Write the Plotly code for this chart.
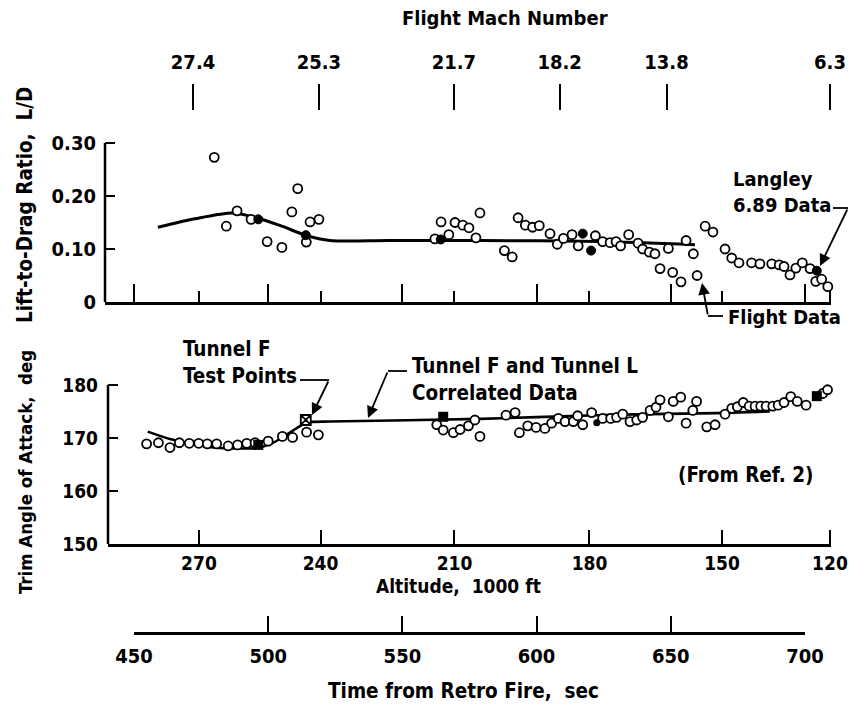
import plotly.graph_objects as go

W, H = 850, 711
FONT = "DejaVu Sans Condensed, DejaVu Sans, sans-serif"

# ---- Lift-to-drag ratio (flight data) vs time from retro fire, s ----
ld_open_time = [474.3, 479.9, 484.4, 488.4, 493.6, 499.6, 505.1, 508.8, 511.0, 514.2,
                515.6, 518.9, 562.1, 564.4, 567.3, 569.6, 572.5, 574.8, 577.4, 578.9,
                588.0, 590.9, 593.1, 595.8, 598.5, 601.0, 605.0, 607.7, 610.0, 613.2,
                615.5, 621.9, 624.6, 627.4, 629.6, 631.3, 634.3, 637.8, 639.5, 642.0,
                644.1, 646.0, 649.1, 650.7, 653.8, 655.7, 658.4, 659.8, 662.8, 665.7,
                670.2, 672.7, 675.4, 680.1, 683.2, 687.6, 690.4, 692.2, 694.4, 696.6,
                699.0, 701.9, 704.0, 706.2, 708.5]
ld_open_value = [0.346, 0.273, 0.143, 0.172, 0.156, 0.114, 0.103, 0.170, 0.214, 0.113,
                 0.151, 0.156, 0.119, 0.151, 0.127, 0.150, 0.145, 0.140, 0.121, 0.168,
                 0.097, 0.085, 0.159, 0.145, 0.141, 0.144, 0.129, 0.109, 0.120, 0.127,
                 0.106, 0.125, 0.114, 0.112, 0.114, 0.106, 0.127, 0.111, 0.100, 0.094,
                 0.091, 0.063, 0.101, 0.056, 0.038, 0.116, 0.091, 0.050, 0.143, 0.132,
                 0.100, 0.083, 0.074, 0.074, 0.072, 0.072, 0.070, 0.067, 0.051, 0.064,
                 0.074, 0.063, 0.039, 0.043, 0.029]
ld_solid_time = [496.3, 514.0, 564.3, 617.2, 620.3, 704.4]
ld_solid_value = [0.156, 0.126, 0.118, 0.129, 0.097, 0.059]
ld_fair_time = [458.9, 472.7, 486.9, 496.2, 505.1, 514.0, 523.0, 545.0, 578.9, 623.6, 659.0]
ld_fair_value = [0.141, 0.157, 0.168, 0.158, 0.143, 0.126, 0.116, 0.116, 0.116, 0.114, 0.108]

# ---- Trim angle of attack, deg ----
trim_open_time = [454.7, 459.1, 463.4, 466.9, 470.6, 474.1, 477.3, 480.8, 485.1, 488.6,
                  492.0, 495.1, 500.0, 505.3, 509.1, 514.3, 518.7, 562.8, 565.2, 569.0,
                  571.5, 574.6, 577.0, 578.9, 588.6, 592.0, 593.6, 596.7, 599.8, 603.1,
                  605.6, 608.1, 610.6, 613.7, 615.3, 617.2, 620.5, 624.6, 627.6, 629.8,
                  632.1, 634.8, 637.3, 639.5, 642.3, 644.5, 646.0, 649.1, 650.9, 653.7,
                  655.7, 658.2, 659.6, 663.4, 666.5, 670.2, 672.7, 674.8, 677.0, 679.2,
                  681.4, 683.5, 685.5, 688.0, 690.0, 692.2, 694.7, 697.1, 700.4, 706.6,
                  708.4]
trim_open_value = [168.9, 169.1, 168.2, 169.1, 169.0, 169.0, 168.9, 168.9, 168.5, 168.7,
                   169.0, 169.1, 169.4, 170.3, 170.1, 171.1, 170.6, 172.5, 171.5, 171.0,
                   171.6, 172.3, 173.4, 170.3, 174.3, 174.8, 171.0, 172.3, 172.0, 171.8,
                   172.8, 173.7, 173.1, 173.1, 174.2, 172.5, 174.8, 173.7, 173.7, 173.9,
                   174.5, 173.1, 173.4, 173.9, 175.2, 175.8, 177.2, 174.0, 176.9, 177.7,
                   172.8, 175.2, 176.9, 172.1, 172.5, 174.5, 175.6, 175.9, 176.7, 176.0,
                   176.0, 176.0, 176.0, 176.0, 176.2, 176.7, 177.8, 176.9, 176.2, 178.4,
                   179.1]
trim_solid_time = [622.4]
trim_solid_value = [172.9]
tunnel_f_time = [496.3, 565.2, 704.4]
tunnel_f_value = [168.7, 174.0, 177.9]
tunnel_f_open_time = [514.0]
tunnel_f_open_value = [173.4]
trim_fair_time = [455.1, 463.4, 474.6, 482.0, 495.7, 500.5, 505.0, 509.5, 514.3, 523.0,
                  578.9, 622.4, 642.3, 667.1, 686.9]
trim_fair_value = [171.2, 169.8, 168.6, 168.1, 168.1, 168.8, 170.0, 171.5, 172.9, 173.1,
                   173.6, 174.3, 174.5, 174.7, 175.0]

# ---- Axis scales ----
time_ticks = [450, 500, 550, 600, 650, 700]
altitude_tick_time = [474.2, 519.5, 569.4, 619.7, 669.1, 709.3]
altitude_labels = ["270", "240", "210", "180", "150", "120"]
mach_tick_time = [472.0, 518.9, 569.2, 608.6, 648.4, 709.3]
mach_labels = ["27.4", "25.3", "21.7", "18.2", "13.8", "6.3"]
ld_ticks = [0, 0.1, 0.2, 0.3]
ld_tick_labels = ["0", "0.10", "0.20", "0.30"]
trim_ticks = [150, 160, 170, 180]


def px(x):
    return x / W


def py(y):
    return 1 - y / H


# time scale: 450 s at x=134 px, 700 s at x=805 px
SEC_PX = (805 - 134) / 250.0


def t_at(xpix):
    return 450 + (xpix - 134) / SEC_PX


TOP_L, LOW_L, RIGHT = 105, 108, 831
TOP_Y0, LOW_Y0 = 302, 544
LD_PX = 530.0        # px per unit L/D
DEG_PX = 5.3         # px per degree


def f(size):
    return dict(family=FONT, size=size, color="black", weight="bold")


open_marker = dict(symbol="circle", size=9, color="white", line=dict(color="black", width=1.8))
solid_marker = dict(symbol="circle", size=9, color="black", line=dict(color="black", width=1))

fig = go.Figure()

# upper panel
fig.add_trace(go.Scatter(x=ld_fair_time, y=ld_fair_value, mode="lines",
                         line=dict(color="black", width=3, shape="spline", smoothing=0.8),
                         xaxis="x", yaxis="y", hoverinfo="skip"))
fig.add_trace(go.Scatter(x=ld_open_time, y=ld_open_value, mode="markers", marker=open_marker,
                         xaxis="x", yaxis="y", cliponaxis=False))
fig.add_trace(go.Scatter(x=ld_solid_time, y=ld_solid_value, mode="markers", marker=solid_marker,
                         xaxis="x", yaxis="y", cliponaxis=False))

# lower panel
fig.add_trace(go.Scatter(x=trim_fair_time, y=trim_fair_value, mode="lines",
                         line=dict(color="black", width=2.6, shape="spline", smoothing=0.6),
                         xaxis="x2", yaxis="y2", hoverinfo="skip"))
fig.add_trace(go.Scatter(x=trim_open_time, y=trim_open_value, mode="markers", marker=open_marker,
                         xaxis="x2", yaxis="y2", cliponaxis=False))
fig.add_trace(go.Scatter(x=trim_solid_time, y=trim_solid_value, mode="markers",
                         marker=dict(symbol="circle", size=7, color="black"),
                         xaxis="x2", yaxis="y2", cliponaxis=False))
fig.add_trace(go.Scatter(x=tunnel_f_open_time, y=tunnel_f_open_value, mode="markers",
                         marker=dict(symbol="square-x", size=10, color="white",
                                     line=dict(color="black", width=1.8)),
                         xaxis="x2", yaxis="y2", cliponaxis=False))
fig.add_trace(go.Scatter(x=tunnel_f_time, y=tunnel_f_value, mode="markers",
                         marker=dict(symbol="square", size=10, color="black"),
                         xaxis="x2", yaxis="y2", cliponaxis=False))

# carriers for the time and Mach scales
fig.add_trace(go.Scatter(x=[None], y=[None], xaxis="x3", yaxis="y3", hoverinfo="skip"))
fig.add_trace(go.Scatter(x=[None], y=[None], xaxis="x4", yaxis="y4", hoverinfo="skip"))

axis_common = dict(showgrid=False, zeroline=False, color="black", tickcolor="black",
                   fixedrange=True, automargin=False)

fig.update_layout(
    width=W, height=H, margin=dict(l=0, r=0, t=0, b=0, pad=0, autoexpand=False),
    paper_bgcolor="white", plot_bgcolor="white", showlegend=False, font=f(19),
    xaxis=dict(domain=[px(TOP_L), px(RIGHT)], range=[t_at(TOP_L), t_at(RIGHT)], anchor="y",
               showline=True, linewidth=2.5, linecolor="black",
               ticks="inside", tickmode="array", tickvals=time_ticks, ticklen=18, tickwidth=1.8,
               showticklabels=False,
               minor=dict(tickmode="array", tickvals=altitude_tick_time, ticks="inside",
                          ticklen=11, tickwidth=1.8, tickcolor="black", showgrid=False),
               **axis_common),
    yaxis=dict(domain=[py(TOP_Y0), py(TOP_Y0 - 0.36 * LD_PX)], range=[0, 0.36], anchor="x",
               showline=False, ticks="inside", tickmode="array", tickvals=ld_ticks,
               ticktext=ld_tick_labels, ticklen=10, tickwidth=1.8, ticklabelstandoff=8,
               tickfont=f(20), **axis_common),
    xaxis2=dict(domain=[px(LOW_L), px(RIGHT)], range=[t_at(LOW_L), t_at(RIGHT)], anchor="y2",
                showline=True, linewidth=2.5, linecolor="black",
                ticks="inside", tickmode="array", tickvals=altitude_tick_time,
                ticktext=altitude_labels, ticklen=14, tickwidth=1.8, ticklabelstandoff=0,
                tickfont=f(19), **axis_common),
    yaxis2=dict(domain=[py(LOW_Y0), py(LOW_Y0 - 32 * DEG_PX)], range=[150, 182], anchor="x2",
                showline=False, ticks="inside", tickmode="array", tickvals=trim_ticks,
                ticklen=10, tickwidth=1.8, ticklabelstandoff=9,
                tickfont=f(19), **axis_common),
    xaxis3=dict(domain=[px(134), px(805)], range=[450, 700], anchor="y3",
                showline=True, linewidth=2.5, linecolor="black",
                ticks="inside", tickmode="array", tickvals=time_ticks, ticklen=16, tickwidth=1.8,
                ticklabelstandoff=4, tickfont=f(20), **axis_common),
    yaxis3=dict(domain=[py(632), py(600)], anchor="x3", visible=False, fixedrange=True),
    xaxis4=dict(domain=[px(TOP_L), px(RIGHT)], range=[t_at(TOP_L), t_at(RIGHT)], anchor="y4",
                side="top", showline=False, ticks="outside", tickmode="array",
                tickvals=mach_tick_time, ticktext=mach_labels, ticklen=26, tickwidth=1.8,
                ticklabelstandoff=7, tickfont=f(20), **axis_common),
    yaxis4=dict(domain=[py(130), py(111)], anchor="x4", visible=False, fixedrange=True),
)

# y-axis spines ending at the top tick
fig.add_shape(type="line", xref="paper", yref="y", x0=px(TOP_L), x1=px(TOP_L), y0=0, y1=0.3,
              line=dict(color="black", width=2.5))
fig.add_shape(type="line", xref="paper", yref="y2", x0=px(LOW_L), x1=px(LOW_L), y0=150, y1=180,
              line=dict(color="black", width=2.5))


def text(s, x, y, size, anchor="center", angle=0):
    fig.add_annotation(text=s, x=px(x), y=py(y), xref="paper", yref="paper",
                       xanchor=anchor, yanchor="middle", align="left", showarrow=False,
                       textangle=angle, font=f(size))


text("Flight Mach Number", 505, 18, 20)
text("Altitude,  1000 ft", 458, 586, 19)
text("Time from Retro Fire,  sec", 463, 691, 20.5)
text("Lift-to-Drag Ratio,  L/D", 25, 205, 20.5, angle=-90)
text("Trim Angle of Attack,  deg", 25, 472, 18.5, angle=-90)
text("Tunnel F<br>Test Points", 181, 362, 20.5, anchor="left")
text("Tunnel F and Tunnel L<br>Correlated Data", 410, 379, 20.5, anchor="left")
text("(From Ref. 2)", 745, 475, 20.5)
text("Langley<br>6.89 Data", 731, 192, 20, anchor="left")
text("Flight Data", 726, 317, 20, anchor="left")


def leader(points, tip):
    path = "M " + " L ".join(f"{px(a)},{py(b)}" for a, b in points)
    fig.add_shape(type="path", path=path, xref="paper", yref="paper",
                  line=dict(color="black", width=1.8))
    tail = points[-1]
    fig.add_annotation(x=px(tip[0]), y=py(tip[1]), xref="paper", yref="paper", text="",
                       showarrow=True, ax=tail[0] - tip[0], ay=tail[1] - tip[1],
                       axref="pixel", ayref="pixel", arrowhead=2, arrowsize=1.3,
                       arrowwidth=1.8, arrowcolor="black", standoff=0)


leader([(300, 380), (329, 380)], (312, 415))
leader([(407, 371), (388, 371)], (368, 418))
leader([(833, 208), (848, 208)], (820, 266))
leader([(723, 316), (708, 316)], (702, 283))

fig.write_html("out.html")
